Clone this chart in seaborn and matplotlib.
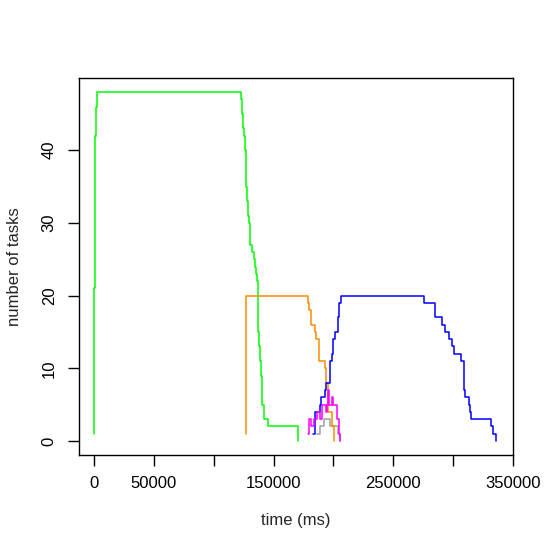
import pandas as pd
import matplotlib
matplotlib.use('Agg')
import matplotlib.pyplot as plt
import seaborn as sns

# step series: time (ms) and number of tasks
green_t = [200, 300, 1100, 1700, 2700, 123100, 124000, 124800, 125600, 126400,
           127300, 128100, 128900, 129800, 130600, 131700, 133900, 134800, 135600,
           136400, 137000, 137800, 138600, 139400, 140300, 141900, 145300, 170300]
green_n = [1, 21, 42, 46, 48, 47, 45, 43, 42, 40,
           35, 33, 31, 30, 27, 26, 25, 24, 23,
           22, 15, 13, 11, 9, 5, 3, 2, 0]

orange_t = [126900, 127000, 178600, 179400, 181400, 184400, 185600, 188300,
            192800, 193600, 195800, 199200, 200800]
orange_n = [1, 20, 19, 18, 16, 15, 14, 11, 10, 8, 4, 2, 0]

blue_t = [183300, 185000, 188600, 189400, 193100, 193900, 196900, 198600, 200000,
          201400, 203600, 204400, 206400, 275300, 284800, 291100, 292800, 296900,
          299400, 300600, 306900, 308900, 309400, 310300, 313600, 314200, 315300,
          331400, 333600, 336100]
blue_n = [1, 4, 5, 6, 7, 8, 11, 12, 14,
          15, 17, 19, 20, 19, 17, 16, 15, 14,
          13, 12, 11, 8, 7, 6, 5, 4, 3,
          2, 1, 0]

magenta_t = [178600, 179400, 181400, 184200, 186700, 189200, 190800, 193800,
             194600, 195800, 196700, 198800, 200000, 203000, 204600, 205800]
magenta_n = [1, 3, 2, 3, 4, 3, 5, 4, 5, 7, 5, 6, 5, 3, 1, 0]

gray_t = [186000, 189000, 192000, 197000, 203500, 205200]
gray_n = [1, 2, 3, 2, 1, 0]

x_ticks = [0, 50000, 100000, 150000, 200000, 250000, 300000, 350000]
x_labels = ['0', '50000', '', '150000', '', '250000', '', '350000']
y_ticks = [0, 10, 20, 30, 40]

series = {
    'gray': (gray_t, gray_n),
    'green': (green_t, green_n),
    'orange': (orange_t, orange_n),
    'blue': (blue_t, blue_n),
    'magenta': (magenta_t, magenta_n),
}
palette = {'green': '#00ff00', 'orange': '#ff8c00', 'blue': '#0000ff',
           'magenta': '#ff00ff', 'gray': '#a0a0a0'}

frames = []
for name, (t, n) in series.items():
    frames.append(pd.DataFrame({'time': t, 'tasks': n, 'series': name}))
df = pd.concat(frames, ignore_index=True)

sns.set_style('white')
plt.rcParams['font.family'] = ['Liberation Sans', 'DejaVu Sans']

fig = plt.figure(figsize=(5.54, 5.53), dpi=100)
ax = fig.add_axes([79 / 554, 1 - 455 / 553, (513 - 79) / 554, (455 - 78) / 553])

sns.lineplot(data=df, x='time', y='tasks', hue='series', palette=palette,
             hue_order=list(series.keys()),
             estimator=None, sort=True, drawstyle='steps-post', linewidth=1.1,
             legend=False, ax=ax)

ax.set_xlim(-12500, 349200)
ax.set_ylim(-1.92, 49.92)
ax.set_xticks(x_ticks)
ax.set_xticklabels(x_labels)
ax.set_yticks(y_ticks)
ax.set_yticklabels([str(v) for v in y_ticks], rotation=90, va='center')

for s in ax.spines.values():
    s.set_color('black')
    s.set_linewidth(1)
ax.tick_params(axis='both', direction='out', length=8, width=1, color='black',
               labelsize=12, labelcolor='black', pad=7,
               bottom=True, left=True)
ax.tick_params(axis='y', pad=8)

ax.set_xlabel('time (ms)', fontsize=12, labelpad=16)
ax.set_ylabel('number of tasks', fontsize=12, labelpad=14)

fig.savefig('out.png', dpi=100, facecolor='white')
